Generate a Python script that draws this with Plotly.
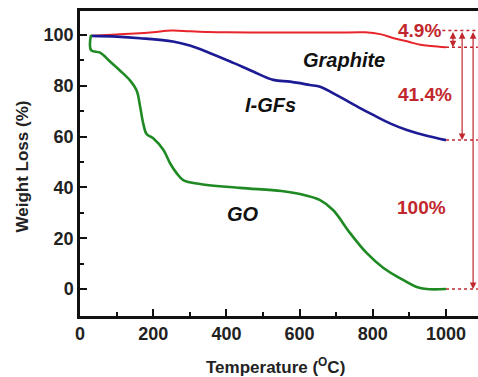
import plotly.graph_objects as go

# ---- data ----
graphite_T = [30, 60, 100, 150, 200, 250, 300, 350, 400, 500, 600, 700, 780, 820, 855, 900, 930, 960, 1000]
graphite_W = [99.6, 99.9, 100.2, 100.5, 101.0, 101.7, 101.4, 101.1, 101.0, 100.9, 100.9, 100.9, 101.0, 100.3, 98.8, 97.2, 96.1, 95.6, 95.1]

igf_T = [30, 100, 164, 254, 300, 346, 419, 473, 528, 574, 628, 656, 710, 760, 801, 850, 893, 950, 1000]
igf_W = [99.6, 99.3, 98.7, 97.4, 95.8, 93.4, 89.0, 85.6, 82.3, 81.6, 80.3, 79.6, 75.6, 71.6, 68.5, 65.0, 62.6, 60.2, 58.6]

go_T = [30, 30, 55, 82, 109, 137, 155, 164, 173, 182, 200, 228, 246, 264, 282, 328, 437, 550, 601, 656, 692, 738, 783, 829, 874, 920, 947, 1000]
go_W = [100, 94, 93, 89.5, 86, 82, 78, 72, 65, 61, 59.3, 54.7, 49.5, 45.6, 42.9, 41.3, 39.8, 38.6, 37.4, 35, 31, 22, 14.2, 8.3, 4.3, 0.8, 0, 0]

x_ticks = [0, 200, 400, 600, 800, 1000]
y_ticks = [0, 20, 40, 60, 80, 100]

labels = ["Graphite", "I-GFs", "GO"]
pct_labels = ["4.9%", "41.4%", "100%"]

RED = "#e8252b"
BLUE = "#1c1a94"
GREEN = "#1f8a23"
DRED = "#c1272d"
FONT = "Liberation Sans, Arial"

fig = go.Figure()
fig.add_trace(go.Scatter(x=graphite_T, y=graphite_W, mode="lines", line=dict(color=RED, width=2.0), line_shape="spline"))
fig.add_trace(go.Scatter(x=igf_T, y=igf_W, mode="lines", line=dict(color=BLUE, width=2.6), line_shape="spline"))
fig.add_trace(go.Scatter(x=go_T, y=go_W, mode="lines", line=dict(color=GREEN, width=2.6), line_shape="spline"))

top = max(graphite_W)
ends = [graphite_W[-1], igf_W[-1], go_W[-1]]
x_end = 1000
x_edge = 1087

# dotted reference lines
for yv, x0 in [(top, 990), (ends[0], x_end), (ends[1], x_end), (ends[2], x_end)]:
    fig.add_trace(go.Scatter(x=[x0, x_edge], y=[yv, yv], mode="lines",
                             line=dict(color=DRED, width=1.5, dash="dot")))

# double-headed arrows
arrow_x = [1019, 1044, 1074]
for ax_, yb in zip(arrow_x, ends):
    fig.add_annotation(x=ax_, y=yb, ax=ax_, ay=top, xref="x", yref="y", axref="x", ayref="y",
                       showarrow=True, arrowhead=2, arrowside="end+start", arrowsize=1.1,
                       arrowwidth=1.2, arrowcolor=DRED, text="")

# curve labels
for txt, (xx, yy) in zip(labels, [(721, 90.2), (520, 72.5), (445, 29.5)]):
    fig.add_annotation(x=xx, y=yy, text="<b><i>%s</i></b>" % txt, showarrow=False,
                       font=dict(family=FONT, size=20, color="#111"))
for txt, (xx, yy) in zip(pct_labels, [(927, 101.8), (943, 76.4), (934, 32)]):
    fig.add_annotation(x=xx, y=yy, text="<b>%s</b>" % txt, showarrow=False,
                       font=dict(family=FONT, size=19, color=DRED))

# axis titles
fig.add_annotation(x=0.5, y=0, xref="paper", yref="paper", xanchor="center", yanchor="middle",
                   yshift=-50, xshift=-4, text="<b>Temperature (<sup>O</sup>C)</b>", showarrow=False,
                   font=dict(family=FONT, size=17, color="#222"))
fig.add_annotation(x=0, y=0.5, xref="paper", yref="paper", xanchor="center", yanchor="middle",
                   xshift=-58, yshift=-3, textangle=-90, text="<b>Weight Loss (%)</b>", showarrow=False,
                   font=dict(family=FONT, size=17, color="#222"))

axis_font = dict(family=FONT, size=18, color="#222", weight="bold")
fig.update_xaxes(range=[0, 1087.4], tickvals=x_ticks, ticks="inside", ticklen=7, tickwidth=2,
                 showline=True, linewidth=2.5, linecolor="#111", mirror=True, showgrid=False,
                 zeroline=False, tickfont=axis_font, tickcolor="#111", automargin=False,
                 minor=dict(tickvals=[100, 300, 500, 700, 900], ticks="inside", ticklen=4, tickwidth=2, tickcolor="#111"))
fig.update_yaxes(range=[-10.6, 109.4], tickvals=y_ticks, ticks="inside", ticklen=7, tickwidth=2,
                 showline=True, linewidth=2.5, linecolor="#111", mirror=False, showgrid=False,
                 zeroline=False, tickfont=axis_font, tickcolor="#111", automargin=False,
                 minor=dict(tickvals=[10, 30, 50, 70, 90], ticks="inside", ticklen=4, tickwidth=2, tickcolor="#111"))

fig.update_layout(width=478, height=377, margin=dict(l=80, r=0, t=11, b=61),
                  plot_bgcolor="white", paper_bgcolor="white", showlegend=False)

# remove the default page margin so the figure fills the window exactly
fig.write_html("out.html", config={"displayModeBar": False},
               post_script="document.body.style.margin='0';document.body.style.overflow='hidden';")
